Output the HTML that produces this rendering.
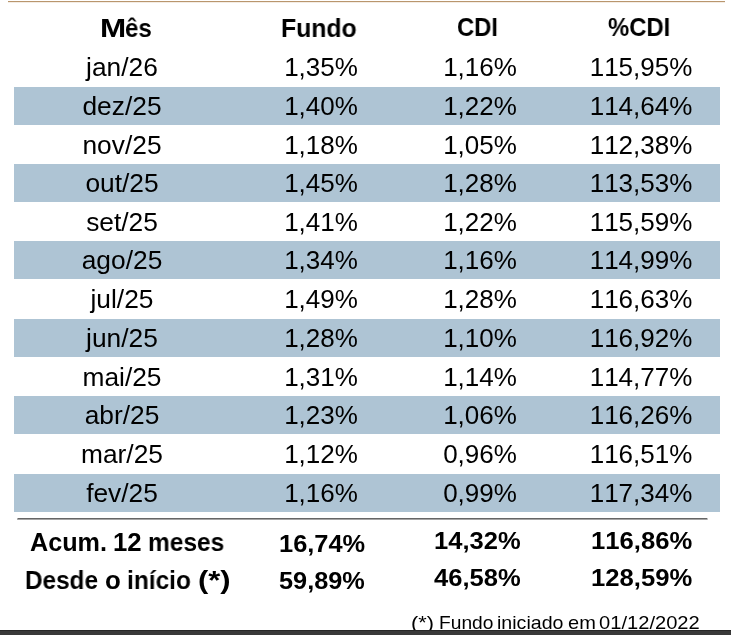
<!DOCTYPE html>
<html><head><meta charset="utf-8"><title>Rentabilidade</title>
<style>
html,body{margin:0;padding:0;background:#fff;}
body{width:731px;height:635px;position:relative;overflow:hidden;font-family:'Liberation Sans',sans-serif;color:#000;}
.band{position:absolute;left:14px;width:706px;height:38px;background:#aec4d4;}
.c,.b,.n{will-change:transform;font-kerning:none;}
.c{position:absolute;white-space:nowrap;line-height:1;font-size:26px;transform:translateX(-50%) scaleX(1.0);}
.b{position:absolute;white-space:nowrap;line-height:1;font-weight:bold;transform-origin:0 0;}
.n{position:absolute;white-space:nowrap;line-height:1;transform-origin:0 0;}
.topline{position:absolute;left:8px;top:1px;width:717px;height:1px;background:#b9966d;border-bottom:1px solid #f4ede5;}
.rule{position:absolute;left:18px;top:518px;width:689px;height:1px;background:#666;border-bottom:1px solid #a6a6a6;box-shadow:-1px 0 0 #b0b0b0,1px 0 0 #c4c4c4;}
.bar{position:absolute;left:0;top:630px;width:731px;height:5px;background:#393939;border-top:1px solid #272727;box-sizing:border-box;}
</style></head><body>
<div class="topline"></div>
<div class="band" style="top:87px"></div>
<div class="band" style="top:164px"></div>
<div class="band" style="top:241px"></div>
<div class="band" style="top:319px"></div>
<div class="band" style="top:396px"></div>
<div class="band" style="top:474px"></div>
<div class="c" style="left:121.9px;top:54px;transform:translateX(-50%) scaleX(1.013)">jan/26</div>
<div class="c" style="left:320.6px;top:54px">1,35%</div>
<div class="c" style="left:479.5px;top:54px">1,16%</div>
<div class="c" style="left:640.5px;top:54px">115,95%</div>
<div class="c" style="left:121.9px;top:93px;transform:translateX(-50%) scaleX(1.013)">dez/25</div>
<div class="c" style="left:320.6px;top:93px">1,40%</div>
<div class="c" style="left:479.5px;top:93px">1,22%</div>
<div class="c" style="left:640.5px;top:93px">114,64%</div>
<div class="c" style="left:121.9px;top:132px;transform:translateX(-50%) scaleX(1.013)">nov/25</div>
<div class="c" style="left:320.6px;top:132px">1,18%</div>
<div class="c" style="left:479.5px;top:132px">1,05%</div>
<div class="c" style="left:640.5px;top:132px">112,38%</div>
<div class="c" style="left:121.9px;top:170px;transform:translateX(-50%) scaleX(1.013)">out/25</div>
<div class="c" style="left:320.6px;top:170px">1,45%</div>
<div class="c" style="left:479.5px;top:170px">1,28%</div>
<div class="c" style="left:640.5px;top:170px">113,53%</div>
<div class="c" style="left:121.9px;top:209px;transform:translateX(-50%) scaleX(1.013)">set/25</div>
<div class="c" style="left:320.6px;top:209px">1,41%</div>
<div class="c" style="left:479.5px;top:209px">1,22%</div>
<div class="c" style="left:640.5px;top:209px">115,59%</div>
<div class="c" style="left:121.9px;top:247px;transform:translateX(-50%) scaleX(1.013)">ago/25</div>
<div class="c" style="left:320.6px;top:247px">1,34%</div>
<div class="c" style="left:479.5px;top:247px">1,16%</div>
<div class="c" style="left:640.5px;top:247px">114,99%</div>
<div class="c" style="left:121.9px;top:286px;transform:translateX(-50%) scaleX(1.013)">jul/25</div>
<div class="c" style="left:320.6px;top:286px">1,49%</div>
<div class="c" style="left:479.5px;top:286px">1,28%</div>
<div class="c" style="left:640.5px;top:286px">116,63%</div>
<div class="c" style="left:121.9px;top:325px;transform:translateX(-50%) scaleX(1.013)">jun/25</div>
<div class="c" style="left:320.6px;top:325px">1,28%</div>
<div class="c" style="left:479.5px;top:325px">1,10%</div>
<div class="c" style="left:640.5px;top:325px">116,92%</div>
<div class="c" style="left:121.9px;top:364px;transform:translateX(-50%) scaleX(1.013)">mai/25</div>
<div class="c" style="left:320.6px;top:364px">1,31%</div>
<div class="c" style="left:479.5px;top:364px">1,14%</div>
<div class="c" style="left:640.5px;top:364px">114,77%</div>
<div class="c" style="left:121.9px;top:402px;transform:translateX(-50%) scaleX(1.013)">abr/25</div>
<div class="c" style="left:320.6px;top:402px">1,23%</div>
<div class="c" style="left:479.5px;top:402px">1,06%</div>
<div class="c" style="left:640.5px;top:402px">116,26%</div>
<div class="c" style="left:121.9px;top:441px;transform:translateX(-50%) scaleX(1.013)">mar/25</div>
<div class="c" style="left:320.6px;top:441px">1,12%</div>
<div class="c" style="left:479.5px;top:441px">0,96%</div>
<div class="c" style="left:640.5px;top:441px">116,51%</div>
<div class="c" style="left:121.9px;top:480px;transform:translateX(-50%) scaleX(1.013)">fev/25</div>
<div class="c" style="left:320.6px;top:480px">1,16%</div>
<div class="c" style="left:479.5px;top:480px">0,99%</div>
<div class="c" style="left:640.5px;top:480px">117,34%</div>
<div class="rule"></div>
<div class="b" style="left:99.50px;top:15.7px;font-size:25px;transform:scaleX(1.2571)">M</div>
<div class="b" style="left:124.64px;top:15.7px;font-size:25px;transform:scaleX(0.9592)">ês</div>
<div class="b" style="left:281.26px;top:15.7px;font-size:25px;transform:scaleX(0.9918)">Fundo</div>
<div class="b" style="left:457.05px;top:15.0px;font-size:25px;transform:scaleX(0.9531)">CDI</div>
<div class="b" style="left:607.98px;top:15.0px;font-size:25px;transform:scaleX(0.9546)">%CDI</div>
<div class="b" style="left:30.04px;top:530.3px;font-size:25px;transform:scaleX(1.0081)">Acum.</div>
<div class="b" style="left:113.36px;top:530.3px;font-size:25px;transform:scaleX(1.0297)">12</div>
<div class="b" style="left:148.19px;top:530.3px;font-size:25px;transform:scaleX(0.9787)">meses</div>
<div class="b" style="left:25.30px;top:567.6px;font-size:25px;transform:scaleX(0.9724)">Desde</div>
<div class="b" style="left:104.97px;top:567.6px;font-size:25px;transform:scaleX(1.0340)">o</div>
<div class="b" style="left:126.69px;top:567.6px;font-size:25px;transform:scaleX(0.9792)">início</div>
<div class="b" style="left:197.95px;top:567.6px;font-size:25px;transform:scaleX(1.2375)">(*)</div>
<div class="b" style="left:278.71px;top:532.0px;font-size:24px;transform:scaleX(1.0587)">16,74%</div>
<div class="b" style="left:279.11px;top:569.0px;font-size:24px;transform:scaleX(1.0538)">59,89%</div>
<div class="b" style="left:434.20px;top:529.0px;font-size:24px;transform:scaleX(1.0637)">14,32%</div>
<div class="b" style="left:434.13px;top:566.0px;font-size:24px;transform:scaleX(1.0646)">46,58%</div>
<div class="b" style="left:591.20px;top:529.0px;font-size:24px;transform:scaleX(1.0685)">116,86%</div>
<div class="b" style="left:591.20px;top:566.0px;font-size:24px;transform:scaleX(1.0685)">128,59%</div>
<div class="n" style="left:411.27px;top:613.3px;font-size:19px;transform:scaleX(1.1437)">(*)</div>
<div class="n" style="left:438.99px;top:613.3px;font-size:19px;transform:scaleX(1.0097)">Fundo</div>
<div class="n" style="left:496.71px;top:613.3px;font-size:19px;transform:scaleX(1.0320)">iniciado</div>
<div class="n" style="left:567.81px;top:613.3px;font-size:19px;transform:scaleX(1.0531)">em</div>
<div class="n" style="left:599.41px;top:613.3px;font-size:19px;transform:scaleX(1.0595)">01/12/2022</div>
<div class="bar"></div>
</body></html>
